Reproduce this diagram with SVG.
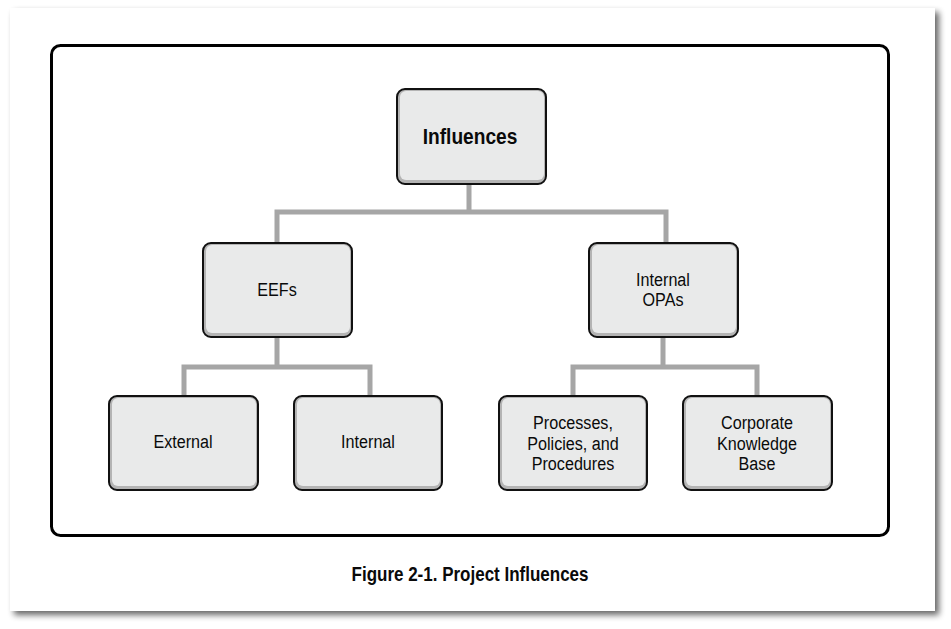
<svg xmlns="http://www.w3.org/2000/svg" width="951" height="629" viewBox="0 0 951 629">
<defs>
<filter id="sh" x="-5%" y="-5%" width="110%" height="110%">
<feGaussianBlur in="SourceAlpha" stdDeviation="3"/>
<feOffset dx="4" dy="4"/>
<feComponentTransfer><feFuncA type="linear" slope="0.6"/></feComponentTransfer>
<feMerge><feMergeNode/><feMergeNode in="SourceGraphic"/></feMerge>
</filter>
</defs>
<style>
.o{fill:#b4b4b4;stroke:#111;stroke-width:2}
.i{fill:#e9eaea}
.t{font-family:"Liberation Sans",Arial,sans-serif;font-size:19px;fill:#0a0a0a;text-anchor:middle}
.b{font-weight:bold}
.c{fill:none;stroke:#a6a6a6;stroke-width:5}
</style>
<rect x="0" y="0" width="951" height="629" fill="#fff"/>
<rect x="10" y="8" width="925" height="603" fill="#fff" filter="url(#sh)"/>
<rect x="51.5" y="45.5" width="837" height="490" rx="9" fill="none" stroke="#000" stroke-width="3"/>
<g id="connectors">
<path class="c" d="M469 184V212M277 243V212H666V243"/>
<path class="c" d="M277 337V367M184 396V367H370V396"/>
<path class="c" d="M663 337V367M573 396V367H757V396"/>
</g>
<g id="influences">
<rect class="o" x="397" y="89" width="149" height="95" rx="8"/>
<rect class="i" x="400" y="91" width="144" height="89" rx="6"/>
<text class="t b" transform="translate(470,144) scale(0.85,1)" style="font-size:22.5px">Influences</text>
</g>
<g id="eefs">
<rect class="o" x="203" y="243" width="149" height="94" rx="8"/>
<rect class="i" x="206" y="245" width="144" height="88" rx="6"/>
<text class="t" transform="translate(277,296) scale(0.85,1)">EEFs</text>
</g>
<g id="opas">
<rect class="o" x="589" y="243" width="149" height="94" rx="8"/>
<rect class="i" x="592" y="245" width="144" height="88" rx="6"/>
<text class="t" transform="translate(663,286) scale(0.85,1)">Internal</text>
<text class="t" transform="translate(663,306) scale(0.85,1)">OPAs</text>
</g>
<g id="external">
<rect class="o" x="109" y="396" width="149" height="94" rx="8"/>
<rect class="i" x="112" y="398" width="144" height="88" rx="6"/>
<text class="t" transform="translate(183,448) scale(0.85,1)">External</text>
</g>
<g id="internal">
<rect class="o" x="294" y="396" width="148" height="94" rx="8"/>
<rect class="i" x="297" y="398" width="143" height="88" rx="6"/>
<text class="t" transform="translate(368,448) scale(0.85,1)">Internal</text>
</g>
<g id="processes">
<rect class="o" x="499" y="396" width="148" height="94" rx="8"/>
<rect class="i" x="502" y="398" width="143" height="88" rx="6"/>
<text class="t" transform="translate(573,429) scale(0.85,1)">Processes,</text>
<text class="t" transform="translate(573,450) scale(0.85,1)">Policies, and</text>
<text class="t" transform="translate(573,470) scale(0.85,1)">Procedures</text>
</g>
<g id="corporate">
<rect class="o" x="683" y="396" width="149" height="94" rx="8"/>
<rect class="i" x="686" y="398" width="144" height="88" rx="6"/>
<text class="t" transform="translate(757,429) scale(0.85,1)">Corporate</text>
<text class="t" transform="translate(757,450) scale(0.85,1)">Knowledge</text>
<text class="t" transform="translate(757,470) scale(0.85,1)">Base</text>
</g>
<text class="t b" transform="translate(470,581) scale(0.85,1)" style="font-size:20px">Figure 2-1. Project Influences</text>
</svg>
